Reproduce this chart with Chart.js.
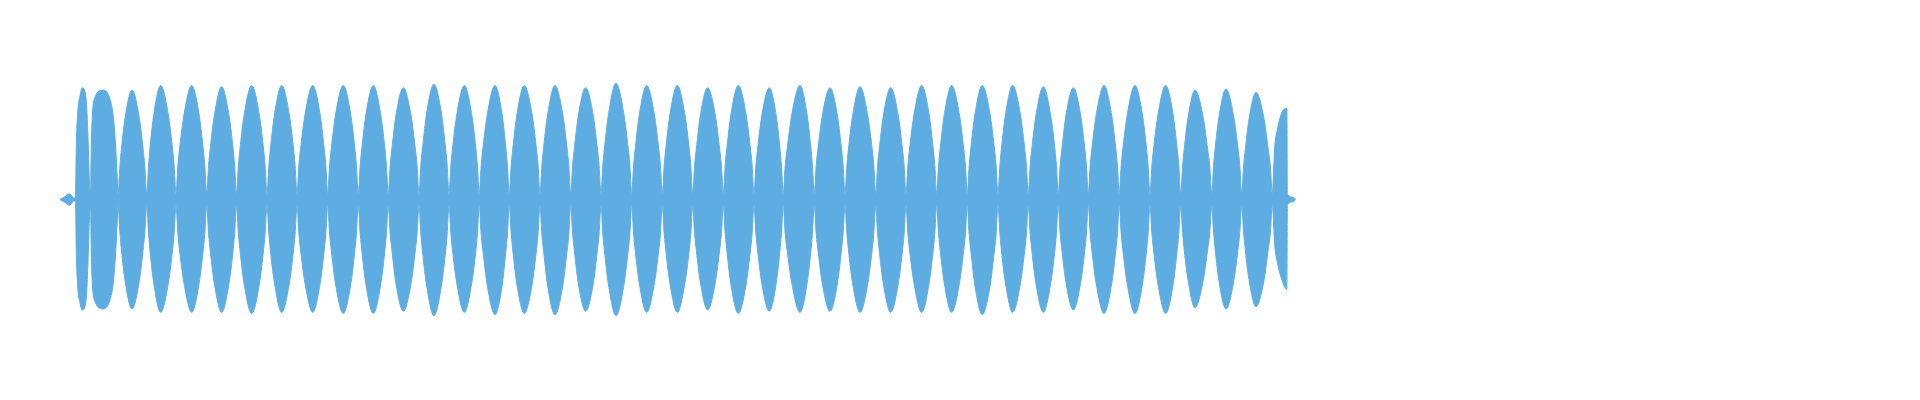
<!DOCTYPE html>
<html>
<head>
<meta charset="utf-8">
<title>Waveform</title>
<style>
html,body{margin:0;padding:0;background:#ffffff;}
#wrap{width:1920px;height:400px;}
</style>
<script src="https://cdn.jsdelivr.net/npm/chart.js@4/dist/chart.umd.min.js"></script>
</head>
<body>
<div id="wrap"><canvas id="c" width="1920" height="400"></canvas></div>
<script>
// time (ms) of each envelope sample
const timeMs = [
60, 64, 69.5, 74.3,
75.5, 76.3, 77.7, 80, 82.3, 85.7, 87, 88.3, 89.3,
90.5, 91.3, 92.3, 94.3, 103.5, 110, 113.3, 115.7, 117.3,
118, 119.9, 121.5, 125, 132, 139.4, 143.0, 144.8,
146.7, 148.6, 150.2, 153.7, 160.7, 168.4, 172.2, 174.1,
176, 177.9, 179.9, 183.9, 191.7, 199.2, 202.9, 204.8,
206.7, 208.6, 210.5, 214.2, 221.7, 229.1, 232.8, 234.6,
236.5, 238.4, 240.3, 244.1, 251.7, 259.4, 263.2, 265.1,
267, 268.9, 270.7, 274.4, 281.7, 289.4, 293.2, 295.1,
297, 298.9, 300.9, 304.9, 312.7, 320.2, 323.9, 325.8,
327.7, 329.6, 331.6, 335.5, 343.3, 350.8, 354.6, 356.4,
358.3, 360.2, 362.1, 365.8, 373.3, 380.8, 384.6, 386.4,
388.3, 390.2, 392.1, 395.8, 403.3, 411.2, 415.1, 417.1,
419, 420.9, 422.8, 426.5, 434, 441.5, 445.3, 447.1,
449, 450.9, 452.8, 456.7, 464.3, 471.8, 475.6, 477.4,
479.3, 481.2, 483.2, 487.2, 495, 502.2, 505.7, 507.4,
509.3, 511.2, 513.1, 516.8, 524.3, 532.2, 536.1, 538.1,
540, 541.9, 543.8, 547.5, 555, 562.9, 566.8, 568.8,
570.7, 572.6, 574.5, 578.2, 585.7, 593.4, 597.2, 599.1,
601, 602.9, 604.8, 608.5, 616, 623.9, 627.8, 629.8,
631.7, 633.6, 635.5, 639.2, 646.7, 654.5, 658.4, 660.4,
662.3, 664.2, 666.1, 669.8, 677.3, 685.0, 688.9, 690.8,
692.7, 694.6, 696.5, 700.2, 707.7, 715.5, 719.4, 721.4,
723.3, 725.2, 727.1, 730.8, 738.3, 746.2, 750.1, 752.1,
754, 755.9, 757.8, 761.7, 769.3, 776.3, 779.8, 781.4,
783.3, 785.2, 787.5, 791.7, 800, 807.2, 810.7, 812.4,
814.3, 816.2, 818.2, 822.2, 830, 837.5, 841.3, 843.1,
845, 846.9, 848.8, 852.5, 860, 867.9, 871.8, 873.8,
875.7, 877.6, 879.5, 883.2, 890.7, 898.4, 902.2, 904.1,
906, 907.9, 909.9, 913.9, 921.7, 929.2, 932.9, 934.8,
936.7, 938.6, 940.5, 944.2, 951.7, 959.5, 963.4, 965.4,
967.3, 969.2, 971.1, 974.8, 982.3, 990.2, 994.1, 996.1,
998, 999.9, 1001.7, 1005.4, 1012.7, 1020.5, 1024.4, 1026.4,
1028.3, 1030.2, 1032.1, 1035.8, 1043.3, 1050.8, 1054.6, 1056.4,
1058.3, 1060.2, 1062.1, 1065.8, 1073.3, 1080.8, 1084.6, 1086.4,
1088.3, 1090.2, 1092.2, 1096.2, 1104, 1111.7, 1115.5, 1117.4,
1119.3, 1121.2, 1123.2, 1127.2, 1135, 1142.5, 1146.3, 1148.1,
1150, 1151.9, 1153.9, 1157.9, 1165.7, 1173.2, 1176.9, 1178.8,
1180.7, 1182.6, 1184.3, 1187.9, 1195, 1203.4, 1207.5, 1209.8,
1211.7, 1213.6, 1215.3, 1218.9, 1226, 1233.9, 1237.8, 1239.8,
1241.7, 1243.6, 1245.3, 1248.9, 1256, 1264.2, 1268.2, 1270.4,
1272.3, 1274.7, 1277.3, 1281.7, 1286.9, 1287.4, 1293, 1295.5
];

// upper envelope (max amplitude)
const maxAmp = [
0, 0.02, 0.05, 0.01,
0.03, 0.47, 0.76, 0.91, 0.98, 0.91, 0.76, 0.47, 0.18,
0.05, 0.46, 0.73, 0.88, 0.96, 0.88, 0.73, 0.46, 0.18,
0.05, 0.29, 0.45, 0.71, 0.96, 0.71, 0.45, 0.29,
0.05, 0.30, 0.47, 0.74, 1.00, 0.74, 0.47, 0.30,
0.05, 0.30, 0.47, 0.74, 1.00, 0.74, 0.47, 0.30,
0.05, 0.30, 0.47, 0.73, 0.99, 0.73, 0.47, 0.30,
0.05, 0.30, 0.47, 0.74, 1.00, 0.74, 0.47, 0.30,
0.05, 0.30, 0.47, 0.74, 1.00, 0.74, 0.47, 0.30,
0.05, 0.30, 0.47, 0.74, 1.00, 0.74, 0.47, 0.30,
0.05, 0.30, 0.47, 0.74, 1.00, 0.74, 0.47, 0.30,
0.05, 0.30, 0.47, 0.74, 1.00, 0.74, 0.47, 0.30,
0.05, 0.30, 0.46, 0.73, 0.98, 0.73, 0.46, 0.30,
0.05, 0.31, 0.47, 0.75, 1.01, 0.75, 0.47, 0.31,
0.05, 0.30, 0.47, 0.74, 1.00, 0.74, 0.47, 0.30,
0.05, 0.30, 0.47, 0.74, 1.00, 0.74, 0.47, 0.30,
0.05, 0.30, 0.47, 0.74, 1.00, 0.74, 0.47, 0.30,
0.05, 0.30, 0.47, 0.74, 1.00, 0.74, 0.47, 0.30,
0.05, 0.30, 0.46, 0.73, 0.98, 0.73, 0.46, 0.30,
0.05, 0.31, 0.48, 0.75, 1.02, 0.75, 0.48, 0.31,
0.05, 0.30, 0.47, 0.74, 1.00, 0.74, 0.47, 0.30,
0.05, 0.30, 0.47, 0.74, 1.00, 0.74, 0.47, 0.30,
0.05, 0.30, 0.46, 0.73, 0.98, 0.73, 0.46, 0.30,
0.05, 0.30, 0.47, 0.74, 1.00, 0.74, 0.47, 0.30,
0.05, 0.30, 0.46, 0.73, 0.98, 0.73, 0.46, 0.30,
0.05, 0.30, 0.47, 0.74, 1.00, 0.74, 0.47, 0.30,
0.05, 0.30, 0.46, 0.73, 0.98, 0.73, 0.46, 0.30,
0.05, 0.30, 0.47, 0.73, 0.99, 0.73, 0.47, 0.30,
0.05, 0.30, 0.46, 0.73, 0.98, 0.73, 0.46, 0.30,
0.05, 0.30, 0.47, 0.74, 1.00, 0.74, 0.47, 0.30,
0.05, 0.30, 0.47, 0.74, 1.00, 0.74, 0.47, 0.30,
0.05, 0.30, 0.47, 0.74, 1.00, 0.74, 0.47, 0.30,
0.05, 0.30, 0.47, 0.74, 1.00, 0.74, 0.47, 0.30,
0.05, 0.30, 0.47, 0.73, 0.99, 0.73, 0.47, 0.30,
0.05, 0.30, 0.46, 0.73, 0.98, 0.73, 0.46, 0.30,
0.05, 0.30, 0.47, 0.74, 1.00, 0.74, 0.47, 0.30,
0.05, 0.30, 0.47, 0.74, 1.00, 0.74, 0.47, 0.30,
0.05, 0.30, 0.47, 0.74, 1.00, 0.74, 0.47, 0.30,
0.05, 0.29, 0.45, 0.71, 0.96, 0.71, 0.45, 0.29,
0.05, 0.30, 0.46, 0.72, 0.97, 0.72, 0.46, 0.30,
0.05, 0.29, 0.44, 0.70, 0.94, 0.70, 0.44, 0.29,
0.05, 0.46, 0.61, 0.76, 0.80, 0.045, 0.02, 0
];

// lower envelope (min amplitude)
const minAmp = [
0, -0.02, -0.05, -0.01,
-0.03, -0.47, -0.76, -0.91, -0.97, -0.91, -0.76, -0.47, -0.18,
-0.05, -0.46, -0.73, -0.88, -0.96, -0.88, -0.73, -0.46, -0.18,
-0.05, -0.29, -0.45, -0.71, -0.96, -0.71, -0.45, -0.29,
-0.05, -0.30, -0.47, -0.73, -0.99, -0.73, -0.47, -0.30,
-0.05, -0.30, -0.47, -0.73, -0.99, -0.73, -0.47, -0.30,
-0.05, -0.30, -0.47, -0.73, -0.99, -0.73, -0.47, -0.30,
-0.05, -0.30, -0.47, -0.74, -1.00, -0.74, -0.47, -0.30,
-0.05, -0.30, -0.47, -0.73, -0.99, -0.73, -0.47, -0.30,
-0.05, -0.30, -0.47, -0.73, -0.99, -0.73, -0.47, -0.30,
-0.05, -0.30, -0.47, -0.74, -1.00, -0.74, -0.47, -0.30,
-0.05, -0.30, -0.47, -0.74, -1.00, -0.74, -0.47, -0.30,
-0.05, -0.30, -0.46, -0.73, -0.98, -0.73, -0.46, -0.30,
-0.05, -0.31, -0.48, -0.75, -1.02, -0.75, -0.48, -0.31,
-0.05, -0.30, -0.47, -0.73, -0.99, -0.73, -0.47, -0.30,
-0.05, -0.31, -0.47, -0.75, -1.01, -0.75, -0.47, -0.31,
-0.05, -0.30, -0.47, -0.74, -1.00, -0.74, -0.47, -0.30,
-0.05, -0.31, -0.47, -0.75, -1.01, -0.75, -0.47, -0.31,
-0.05, -0.30, -0.46, -0.73, -0.98, -0.73, -0.46, -0.30,
-0.05, -0.31, -0.48, -0.75, -1.02, -0.75, -0.48, -0.31,
-0.05, -0.30, -0.47, -0.73, -0.99, -0.73, -0.47, -0.30,
-0.05, -0.30, -0.47, -0.73, -0.99, -0.73, -0.47, -0.30,
-0.05, -0.30, -0.46, -0.72, -0.97, -0.72, -0.46, -0.30,
-0.05, -0.30, -0.47, -0.74, -1.00, -0.74, -0.47, -0.30,
-0.05, -0.30, -0.46, -0.73, -0.98, -0.73, -0.46, -0.30,
-0.05, -0.30, -0.47, -0.73, -0.99, -0.73, -0.47, -0.30,
-0.05, -0.30, -0.46, -0.73, -0.98, -0.73, -0.46, -0.30,
-0.05, -0.30, -0.47, -0.73, -0.99, -0.73, -0.47, -0.30,
-0.05, -0.30, -0.47, -0.73, -0.99, -0.73, -0.47, -0.30,
-0.05, -0.30, -0.47, -0.73, -0.99, -0.73, -0.47, -0.30,
-0.05, -0.30, -0.47, -0.73, -0.99, -0.73, -0.47, -0.30,
-0.05, -0.31, -0.47, -0.75, -1.01, -0.75, -0.47, -0.31,
-0.05, -0.30, -0.47, -0.73, -0.99, -0.73, -0.47, -0.30,
-0.05, -0.30, -0.47, -0.73, -0.99, -0.73, -0.47, -0.30,
-0.05, -0.30, -0.46, -0.72, -0.97, -0.72, -0.46, -0.30,
-0.05, -0.30, -0.47, -0.74, -1.00, -0.74, -0.47, -0.30,
-0.05, -0.30, -0.47, -0.74, -1.00, -0.74, -0.47, -0.30,
-0.05, -0.30, -0.47, -0.74, -1.00, -0.74, -0.47, -0.30,
-0.05, -0.29, -0.45, -0.70, -0.95, -0.70, -0.45, -0.29,
-0.05, -0.29, -0.45, -0.71, -0.96, -0.71, -0.45, -0.29,
-0.05, -0.29, -0.44, -0.70, -0.94, -0.70, -0.44, -0.29,
-0.05, -0.40, -0.55, -0.70, -0.79, -0.045, -0.02, 0
];

const waveColor = 'rgb(93,173,226)';

const upperPts = timeMs.map((x, i) => ({ x: x, y: maxAmp[i] }));
const lowerPts = timeMs.map((x, i) => ({ x: x, y: minAmp[i] }));

new Chart(document.getElementById('c').getContext('2d'), {
  type: 'line',
  data: {
    datasets: [
      {
        label: 'max',
        data: upperPts,
        fill: '+1',
        backgroundColor: waveColor,
        borderColor: waveColor,
        borderWidth: 1,
        pointRadius: 0,
        cubicInterpolationMode: 'monotone'
      },
      {
        label: 'min',
        data: lowerPts,
        fill: false,
        backgroundColor: waveColor,
        borderColor: waveColor,
        borderWidth: 1,
        pointRadius: 0,
        cubicInterpolationMode: 'monotone'
      }
    ]
  },
  options: {
    responsive: false,
    animation: false,
    devicePixelRatio: 1,
    layout: { padding: { top: 0, bottom: 1, left: 0, right: 0 } },
    plugins: { legend: { display: false }, tooltip: { enabled: false } },
    scales: {
      x: { type: 'linear', min: 0, max: 1920, display: false },
      y: { min: -1.75, max: 1.75, display: false }
    }
  }
});
</script>
</body>
</html>
